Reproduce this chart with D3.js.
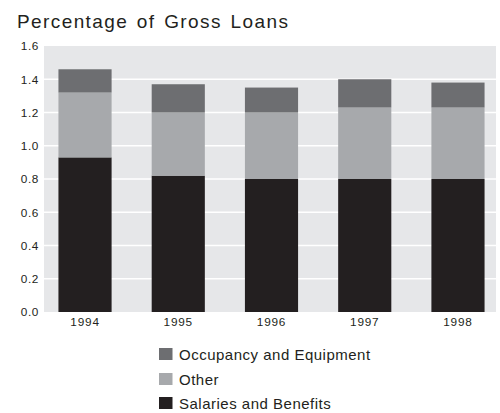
<!DOCTYPE html>
<html>
<head>
<meta charset="utf-8">
<script src="https://cdn.jsdelivr.net/npm/d3@7"></script>
<style>
  html, body { margin: 0; padding: 0; background: #fff; }
  svg { display: block; font-family: "Liberation Sans", Arial, Helvetica, sans-serif; }
</style>
</head>
<body>
<svg id="chart" width="500" height="413"></svg>
<script>
// Operating expense components, as a percentage of gross loans
const years = ["1994", "1995", "1996", "1997", "1998"];
const salaries = [0.93, 0.82, 0.80, 0.80, 0.80];
const other = [0.39, 0.38, 0.40, 0.43, 0.43];
const occupancy = [0.14, 0.17, 0.15, 0.17, 0.15];
const yTicks = [0, 0.2, 0.4, 0.6, 0.8, 1.0, 1.2, 1.4, 1.6];

const seriesNames = ["Salaries and Benefits", "Other", "Occupancy and Equipment"];
const seriesKeys = ["salaries", "other", "occupancy"];
const colors = { salaries: "#231f20", other: "#a7a9ac", occupancy: "#6d6e71" };

const rows = years.map((y, i) => ({
  year: y, salaries: salaries[i], other: other[i], occupancy: occupancy[i]
}));

const svg = d3.select("#chart");
const plot = { left: 44, right: 496, top: 46, bottom: 312 };

const x = d3.scaleBand()
  .domain(years)
  .range([38.4, 504.6])
  .paddingInner(0.43)
  .paddingOuter(0.215);

const y = d3.scaleLinear()
  .domain([0, 1.6])
  .range([plot.bottom, plot.top]);

// Title
svg.append("text")
  .attr("x", 17).attr("y", 28)
  .attr("font-size", 19)
  .attr("letter-spacing", 1.4)
  .attr("word-spacing", 2)
  .attr("fill", "#231f20")
  .text("Percentage of Gross Loans");

// Plot background
svg.append("rect")
  .attr("x", plot.left).attr("y", plot.top)
  .attr("width", plot.right - plot.left)
  .attr("height", plot.bottom - plot.top)
  .attr("fill", "#e6e7e9");

// Horizontal gridlines
svg.append("g")
  .selectAll("line")
  .data(yTicks.filter(t => t > 0 && t < 1.6))
  .join("line")
  .attr("x1", plot.left).attr("x2", plot.right)
  .attr("y1", d => y(d)).attr("y2", d => y(d))
  .attr("stroke", "#ffffff")
  .attr("stroke-width", 1.6);

// Y axis labels
const yAxis = d3.axisLeft(y)
  .tickValues(yTicks)
  .tickFormat(d3.format(".1f"))
  .tickSize(0)
  .tickPadding(5);
const gy = svg.append("g")
  .attr("transform", `translate(${plot.left},0)`)
  .call(yAxis);
gy.select(".domain").remove();
gy.selectAll("text")
  .attr("font-size", 11.8)
  .attr("letter-spacing", 0.6)
  .attr("font-family", "Liberation Sans, Arial, sans-serif")
  .attr("fill", "#231f20");

// Stacked bars
const stack = d3.stack().keys(seriesKeys);
const stacked = stack(rows);

svg.append("g")
  .selectAll("g")
  .data(stacked)
  .join("g")
  .attr("fill", d => colors[d.key])
  .selectAll("rect")
  .data(d => d)
  .join("rect")
  .attr("x", d => x(d.data.year))
  .attr("width", x.bandwidth())
  .attr("y", d => y(d[1]))
  .attr("height", d => y(d[0]) - y(d[1]));

// X axis labels
const xAxis = d3.axisBottom(x).tickSize(0).tickPadding(6);
const gx = svg.append("g")
  .attr("transform", `translate(0,${plot.bottom})`)
  .call(xAxis);
gx.select(".domain").remove();
gx.selectAll("text")
  .attr("font-size", 11.8)
  .attr("letter-spacing", 0.8)
  .attr("font-family", "Liberation Sans, Arial, sans-serif")
  .attr("fill", "#231f20");

// Legend
const legendItems = [
  { key: "occupancy", label: seriesNames[2], y: 348 },
  { key: "other", label: seriesNames[1], y: 373 },
  { key: "salaries", label: seriesNames[0], y: 397 }
];
const legend = svg.append("g");
legend.selectAll("rect")
  .data(legendItems)
  .join("rect")
  .attr("x", 159).attr("y", d => d.y)
  .attr("width", 13.5).attr("height", 12)
  .attr("fill", d => colors[d.key]);
legend.selectAll("text")
  .data(legendItems)
  .join("text")
  .attr("x", 179).attr("y", d => d.y + 11.5)
  .attr("font-size", 15)
  .attr("letter-spacing", 0.5)
  .attr("fill", "#231f20")
  .text(d => d.label);
</script>
</body>
</html>
